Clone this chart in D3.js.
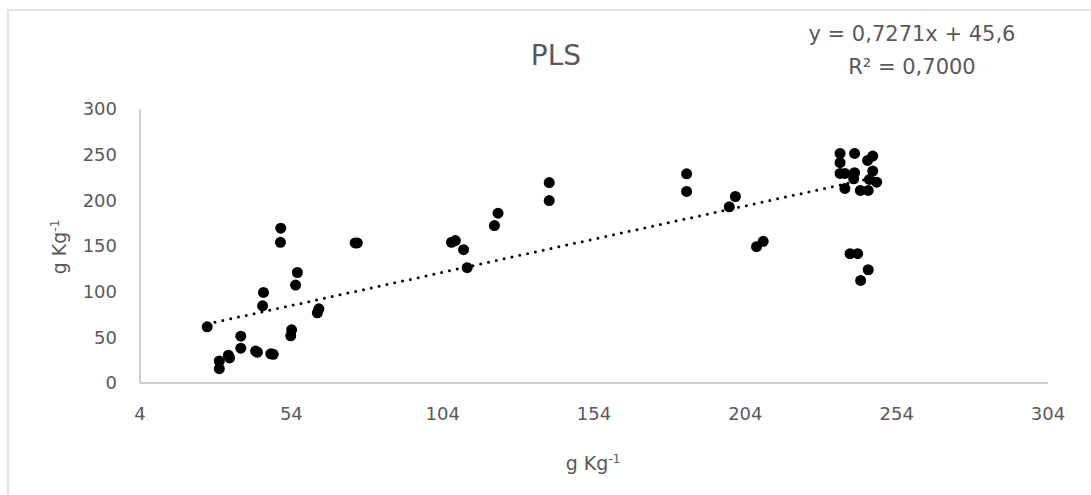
<!DOCTYPE html>
<html>
<head>
<meta charset="utf-8">
<script src="https://cdn.jsdelivr.net/npm/d3@7"></script>
<style>
  html, body { margin: 0; padding: 0; background: #fff; }
  svg { display: block; font-family: "DejaVu Sans", "Open Sans", sans-serif; }
</style>
</head>
<body>
<svg id="chart" width="1091" height="495"></svg>
<script>
// Observed vs. predicted values (g Kg-1)
const xValues = [
  26.2, 30.2, 30.2, 33.2, 33.6, 37.3, 37.3, 42.2, 42.8, 47.2, 48.0,
  44.8, 44.5, 50.4, 50.5, 56.0, 55.4, 54.1, 53.8, 63.1, 62.6, 75.1, 75.8,
  106.9, 108.2, 110.9, 112.1, 121.1, 122.3, 139.2, 139.2, 184.6, 184.6,
  198.7, 200.7, 207.7, 209.9,
  235.3, 240.1, 235.3, 246.1, 244.4, 235.3, 236.9, 240.1, 239.8, 246.1,
  245.0, 247.4, 236.9, 242.0, 244.6, 238.6, 241.1, 244.6, 242.1
];
const yValues = [
  61.5, 24.1, 15.7, 30.5, 27.5, 51.3, 38.1, 35.0, 33.8, 32.0, 31.4,
  99.2, 84.5, 154.0, 169.5, 121.0, 107.2, 58.2, 51.6, 81.2, 76.8, 153.4, 153.4,
  154.0, 155.9, 146.0, 126.3, 172.4, 185.9, 219.5, 199.8, 229.0, 209.7,
  192.9, 204.2, 149.3, 155.1,
  251.4, 251.4, 241.2, 248.5, 243.7, 229.4, 229.4, 230.2, 223.6, 232.0,
  222.9, 219.9, 213.0, 210.8, 210.8, 141.6, 141.6, 124.0, 112.3
];
const xTicks = [4, 54, 104, 154, 204, 254, 304];
const yTicks = [0, 50, 100, 150, 200, 250, 300];
const slope = 0.7271;
const intercept = 45.6;
const titleText = "PLS";
const equationText = "y = 0,7271x + 45,6";
const r2Text = "R² = 0,7000";

const points = xValues.map((x, i) => ({ x, y: yValues[i] }));

const svg = d3.select("#chart");
const textColor = "#595959";
const axisColor = "#bfbfbf";

// chart frame
svg.append("rect")
  .attr("x", 8).attr("y", 10)
  .attr("width", 1200).attr("height", 600)
  .attr("fill", "#fff").attr("stroke", "#d9d9d9").attr("stroke-width", 1.5);

const x = d3.scaleLinear().domain([4, 304]).range([140, 1048]);
const y = d3.scaleLinear().domain([0, 300]).range([383, 109]);

// axes lines
svg.append("line")
  .attr("x1", x(4)).attr("x2", x(4)).attr("y1", y(300)).attr("y2", y(0))
  .attr("stroke", axisColor).attr("stroke-width", 1.5);
svg.append("line")
  .attr("x1", x(4)).attr("x2", x(304)).attr("y1", y(0)).attr("y2", y(0))
  .attr("stroke", axisColor).attr("stroke-width", 1.5);

// y tick labels
svg.append("g").selectAll("text").data(yTicks).join("text")
  .attr("x", 117).attr("y", d => y(d))
  .attr("dy", "0.35em")
  .attr("text-anchor", "end")
  .attr("font-size", 18).attr("fill", textColor)
  .text(d => d);

// x tick labels
svg.append("g").selectAll("text").data(xTicks).join("text")
  .attr("x", d => x(d)).attr("y", 414)
  .attr("dy", "0.35em")
  .attr("text-anchor", "middle")
  .attr("font-size", 18).attr("fill", textColor)
  .text(d => d);

// axis titles
function unitLabel(sel) {
  sel.append("tspan").text("g Kg");
  sel.append("tspan").attr("font-size", 12).attr("dy", -7).text("-1");
}
svg.append("text")
  .attr("x", 593).attr("y", 470)
  .attr("text-anchor", "middle")
  .attr("font-size", 19).attr("fill", textColor)
  .call(unitLabel);
svg.append("text")
  .attr("transform", "translate(66,247) rotate(-90)")
  .attr("text-anchor", "middle")
  .attr("font-size", 19).attr("fill", textColor)
  .call(unitLabel);

// title
svg.append("text")
  .attr("x", 556).attr("y", 65)
  .attr("text-anchor", "middle")
  .attr("font-size", 28).attr("fill", textColor)
  .text(titleText);

// regression label
svg.append("text")
  .attr("x", 912).attr("y", 41)
  .attr("text-anchor", "middle")
  .attr("font-size", 21).attr("fill", textColor)
  .text(equationText);
svg.append("text")
  .attr("x", 912).attr("y", 74)
  .attr("text-anchor", "middle")
  .attr("font-size", 21).attr("fill", textColor)
  .text(r2Text);

// linear trend line over the data range
const [xMin, xMax] = d3.extent(xValues);
const trend = [xMin, xMax].map(v => ({ x: v, y: slope * v + intercept }));
svg.append("path")
  .datum(trend)
  .attr("d", d3.line().x(d => x(d.x)).y(d => y(d.y)))
  .attr("fill", "none")
  .attr("stroke", "#000")
  .attr("stroke-width", 3)
  .attr("stroke-linecap", "round")
  .attr("stroke-dasharray", "0,8");

// scatter points
svg.append("g").selectAll("circle").data(points).join("circle")
  .attr("cx", d => x(d.x)).attr("cy", d => y(d.y))
  .attr("r", 5.5)
  .attr("fill", "#000");
</script>
</body>
</html>
